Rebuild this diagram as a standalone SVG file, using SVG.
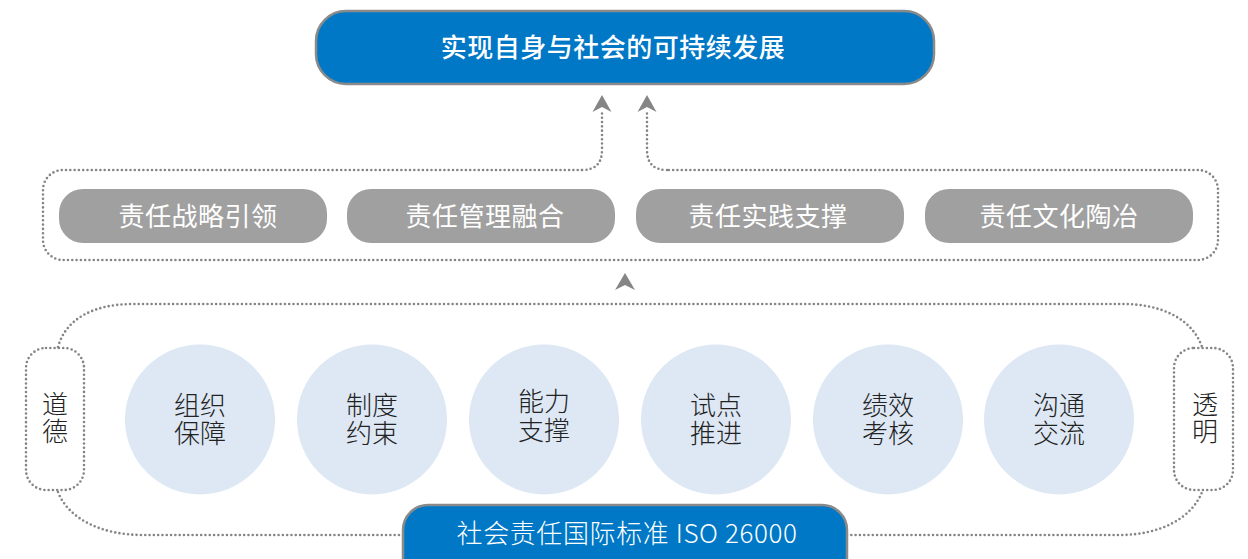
<svg xmlns="http://www.w3.org/2000/svg" width="1248" height="559" viewBox="0 0 1248 559">
<style>
.dot{fill:none;stroke:#858585;stroke-width:2.6;stroke-linecap:round;stroke-dasharray:0 4.3}
.blue{fill:#0078c6;stroke:#8a8a8a;stroke-width:2.5}
.pill{fill:#a0a0a0}
.circ{fill:#dde8f4}
.t{font-family:"Noto Sans CJK SC","Noto Sans",sans-serif;font-size:26px;text-anchor:middle}
.w{fill:#ffffff}
.k{fill:#222222;font-weight:300}
.ah{fill:#858585}
</style>
<rect width="1248" height="559" fill="#ffffff"/>

<g id="goal">
<rect class="blue" x="316" y="11" width="618" height="73" rx="30"/>
<text class="t w" x="613" y="57" font-weight="500" letter-spacing="0.5">实现自身与社会的可持续发展</text>
</g>

<g id="upper-frame">
<path class="dot" d="M582,170 H63 A20,20 0 0 0 43,190 V240 A20,20 0 0 0 63,260 H1198 A20,20 0 0 0 1218,240 V190 A20,20 0 0 0 1198,170 H667"/>
</g>

<g id="p1"><rect class="pill" x="59" y="189" width="268" height="54" rx="24"/><text class="t w" x="198" y="226" letter-spacing="0.5">责任战略引领</text></g>
<g id="p2"><rect class="pill" x="347" y="189" width="268" height="54" rx="24"/><text class="t w" x="485" y="226" letter-spacing="0.5">责任管理融合</text></g>
<g id="p3"><rect class="pill" x="636" y="189" width="268" height="54" rx="24"/><text class="t w" x="768" y="226" letter-spacing="0.5">责任实践支撑</text></g>
<g id="p4"><rect class="pill" x="925" y="189" width="268" height="54" rx="24"/><text class="t w" x="1059" y="226" letter-spacing="0.5">责任文化陶冶</text></g>

<g id="connectors">
<path class="dot" d="M582,170 Q602,170 602,150 V110"/>
<path class="dot" d="M667,170 Q647,170 647,150 V110"/>
<path class="ah" d="M602,95 L611.5,112 L602,107 L592.5,112 Z"/>
<path class="ah" d="M647,95 L656.5,112 L647,107 L637.5,112 Z"/>
<path class="ah" d="M625,273 L635,290 L625,285 L615,290 Z"/>
</g>

<g id="lower-frame">
<path class="dot" d="M58,347 C66,318 95,304 133,304 H1123 C1160,304 1192,318 1202,347"/>
<path class="dot" d="M58,492 C68,518 100,535 143,535 H403"/>
<path class="dot" d="M847,535 H1120 C1160,535 1192,518 1202,492"/>
</g>

<g id="ethics"><rect class="dot" x="26" y="348" width="58" height="142" rx="20"/><text class="t k"><tspan x="55" y="414">道</tspan><tspan x="55" y="441">德</tspan></text></g>
<g id="transparency"><rect class="dot" x="1174" y="348" width="59" height="142" rx="20"/><text class="t k"><tspan x="1205" y="414">透</tspan><tspan x="1205" y="441">明</tspan></text></g>

<g id="c1"><circle class="circ" cx="200" cy="419.5" r="75"/><text class="t k"><tspan x="200" y="414.5">组织</tspan><tspan x="200" y="443">保障</tspan></text></g>
<g id="c2"><circle class="circ" cx="372" cy="419.5" r="75"/><text class="t k"><tspan x="372" y="414.5">制度</tspan><tspan x="372" y="443">约束</tspan></text></g>
<g id="c3"><circle class="circ" cx="544" cy="419.5" r="75"/><text class="t k"><tspan x="544" y="410.5">能力</tspan><tspan x="544" y="439.5">支撑</tspan></text></g>
<g id="c4"><circle class="circ" cx="716" cy="419.5" r="75"/><text class="t k"><tspan x="716" y="414.5">试点</tspan><tspan x="716" y="443">推进</tspan></text></g>
<g id="c5"><circle class="circ" cx="888" cy="419.5" r="75"/><text class="t k"><tspan x="888" y="414.5">绩效</tspan><tspan x="888" y="443">考核</tspan></text></g>
<g id="c6"><circle class="circ" cx="1059" cy="419.5" r="75"/><text class="t k"><tspan x="1059" y="414.5">沟通</tspan><tspan x="1059" y="443">交流</tspan></text></g>

<g id="iso">
<rect class="blue" x="403" y="505" width="444" height="80" rx="25"/>
<text class="t w" x="627" y="543" font-weight="300" letter-spacing="0.6">社会责任国际标准 ISO 26000</text>
</g>
</svg>
